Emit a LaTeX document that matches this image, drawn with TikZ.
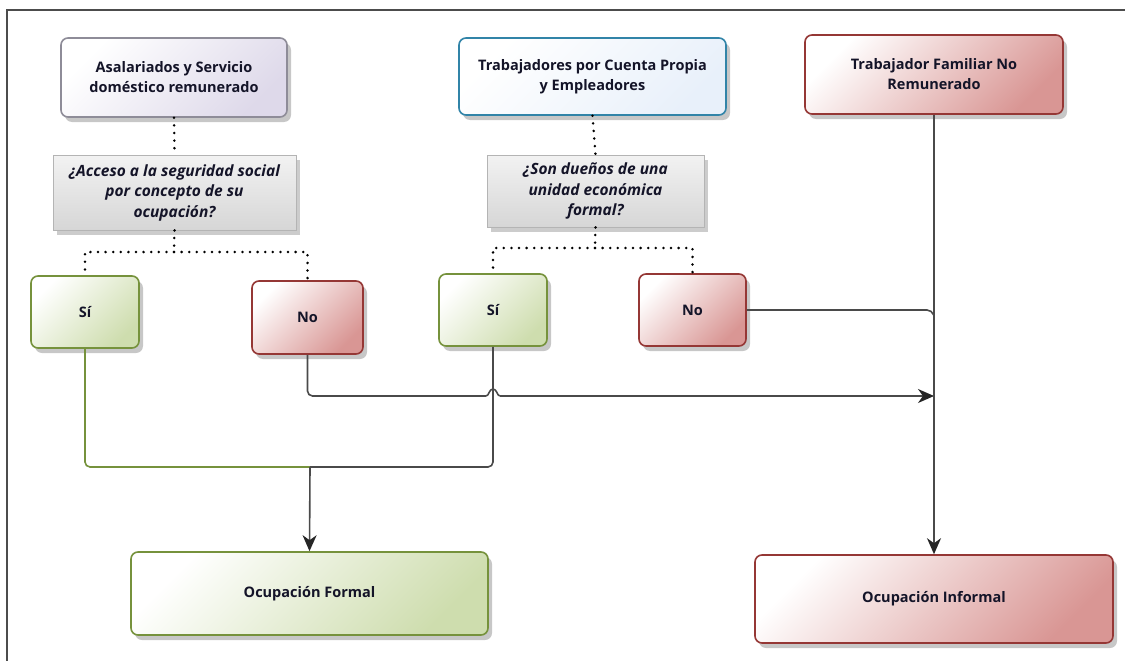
\documentclass[tikz,border=0pt]{standalone}
\usepackage{fontspec}
\setmainfont{Open Sans}
\usetikzlibrary{arrows.meta,shadows,calc}
\definecolor{grnB}{HTML}{76923C}
\definecolor{grnF}{HTML}{CEDDAE}
\definecolor{redB}{HTML}{953735}
\definecolor{redF}{HTML}{D99694}
\definecolor{bluB}{HTML}{3184A8}
\definecolor{bluF}{HTML}{E8F0FA}
\definecolor{lavB}{HTML}{8E8C98}
\definecolor{lavF}{HTML}{DED9EA}
\definecolor{qB}{HTML}{B4B4B4}
\definecolor{qF}{HTML}{D6D6D6}
\definecolor{lineC}{HTML}{4A4A4A}
\definecolor{txt}{HTML}{141428}
\tikzset{
  box/.style={draw, line width=1.6pt, rounded corners=7pt, align=center,
    font=\fontsize{14.5}{20}\selectfont\bfseries, text=txt, inner sep=2pt,
    drop shadow={shadow xshift=4pt, shadow yshift=-5pt, opacity=0.22, fill=black}},
  grnbox/.style={box, draw=grnB, top color=white, bottom color=grnF, shading angle=45},
  redbox/.style={box, draw=redB, top color=white, bottom color=redF, shading angle=45},
  blubox/.style={box, draw=bluB, top color=white, bottom color=bluF, shading angle=45},
  lavbox/.style={box, draw=lavB, top color=white, bottom color=lavF, shading angle=45},
  qbox/.style={draw=qB, line width=0.8pt, align=center, top color=white!95!black, bottom color=qF,
    font=\fontsize{15.5}{20.5}\selectfont\bfseries\itshape, text=txt, inner sep=2pt,
    drop shadow={shadow xshift=4pt, shadow yshift=-5pt, opacity=0.2, fill=black}},
  dotln/.style={draw=black, line width=2.8pt, line cap=round, dash pattern=on 0pt off 7.6pt},
  conn/.style={draw=lineC, line width=1.6pt, rounded corners=5pt},
  arr/.style={conn, -{Stealth[length=16pt,width=14pt,inset=5pt,color=black!85]}},
}
\begin{document}
\begin{tikzpicture}[x=1pt,y=-1pt]
\useasboundingbox (0,0) rectangle (1125,661);
\fill[white] (0,0) rectangle (1125,661);
% frame
\draw[line width=1.2pt, draw=black!70] (7,661) -- (7,10) -- (1125,10);

% nodes
\node[lavbox, minimum width=226pt, minimum height=79pt] (A1) at (174,77.5) {Asalariados y Servicio\\dom\'estico remunerado};
\node[qbox, minimum width=243pt, minimum height=75pt] (Q1) at (174.5,192.5) {¿Acceso a la seguridad social\\por concepto de su\\ocupación?};
\node[blubox, minimum width=267pt, minimum height=77pt] (T2) at (592.5,76.5) {Trabajadores por Cuenta Propia\\y Empleadores};
\node[qbox, minimum width=217pt, minimum height=72pt] (Q2) at (595.5,191) {¿Son dueños de una\\unidad económica\\formal?};
\node[redbox, minimum width=258pt, minimum height=79pt] (T3) at (934,74.5) {Trabajador Familiar No\\Remunerado};
\node[grnbox, minimum width=108pt, minimum height=72pt] (S1) at (85,312) {Sí};
\node[redbox, minimum width=111pt, minimum height=73pt] (N1) at (307.5,317.5) {No};
\node[grnbox, minimum width=108pt, minimum height=72pt] (S2) at (493,310) {Sí};
\node[redbox, minimum width=107pt, minimum height=72pt] (N2) at (692.5,310) {No};
\node[grnbox, minimum width=357pt, minimum height=83pt] (OF) at (309.5,593.5) {Ocupación Formal};
\node[redbox, minimum width=358pt, minimum height=88pt] (OI) at (934,599) {Ocupación Informal};

% coordinates
\coordinate (q1j) at (174,252);
\coordinate (q2j) at (595,248);
\coordinate (fj) at (310,467);
\coordinate (ij) at (934,396);
\coordinate (bj) at (S2.south |- ij);

% dotted connectors
\draw[dotln] (A1.south) -- (Q1.north);
\draw[dotln] (Q1.south) -- (q1j);
\draw[dotln] (q1j) -| (S1.north);
\draw[dotln] (q1j) -| (N1.north);
\draw[dotln] (T2.south) -- (Q2.north);
\draw[dotln] (Q2.south) -- (q2j);
\draw[dotln] (q2j) -| (S2.north);
\draw[dotln] (q2j) -| (N2.north);

% solid connectors
\draw[conn, draw=grnB] (S1.south) |- (fj);
\draw[conn] (S2.south) |- (fj);
\draw[arr] (fj) -- (OF.north);
\draw[conn] (N1.south) |- ($(bj)+(-7,0)$);
\draw[conn, rounded corners=0pt] ($(bj)+(-7,0)$) .. controls ($(bj)+(-4,0)$) and ($(bj)+(-4,-7)$) .. ($(bj)+(0,-7)$)
   .. controls ($(bj)+(4,-7)$) and ($(bj)+(4,0)$) .. ($(bj)+(7,0)$);
\draw[arr] ($(bj)+(7,0)$) -- (ij);
\draw[conn] (N2.east) -- ($(T3.south |- N2.east)+(-2,0)$) -- ($(T3.south |- N2.east)+(0,6)$);
\draw[arr] (T3.south) -- (OI.north);
\end{tikzpicture}
\end{document}
